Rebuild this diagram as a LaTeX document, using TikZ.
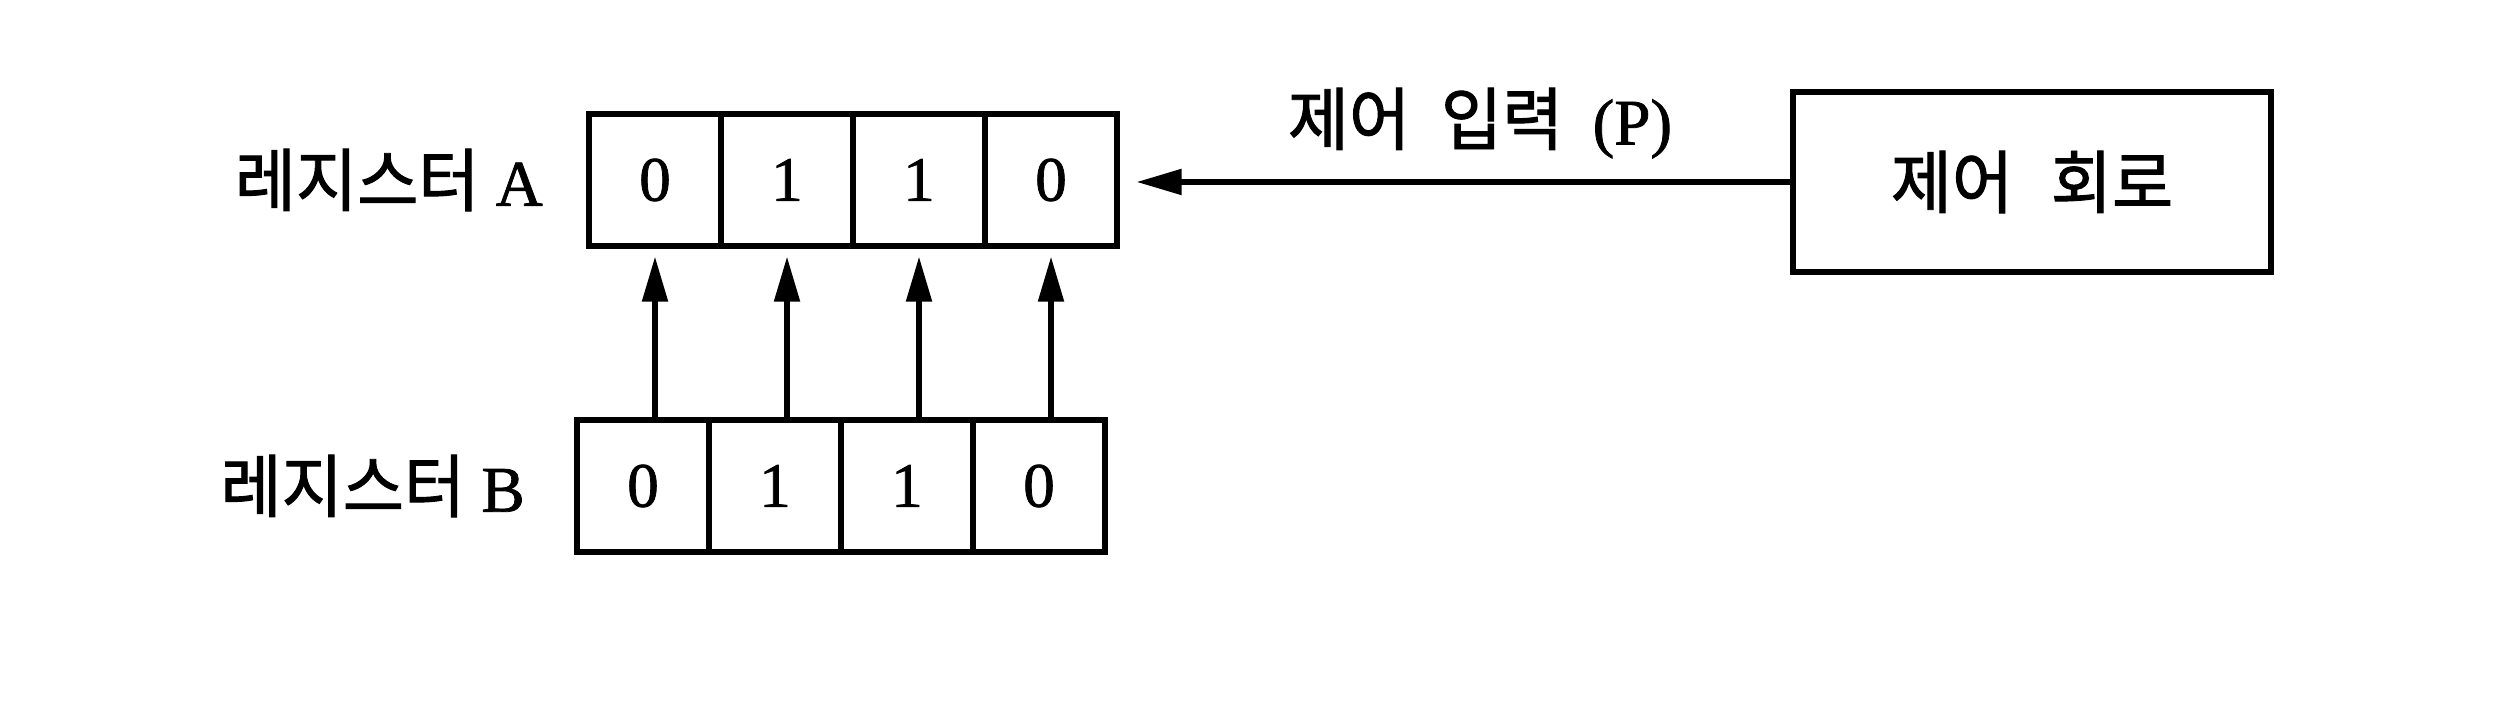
\documentclass[tikz,border=0pt]{standalone}
\usepackage{fontspec}
\setmainfont{Liberation Serif}[FakeBold=1.2]
\newfontfamily\kr{Noto Sans CJK KR}[FakeBold=1.4,FakeStretch=0.97]
\usetikzlibrary{positioning,arrows.meta}

\begin{document}
\begin{tikzpicture}[->,>={Triangle[length=4.5mm,width=2.5mm]},line width=1.5pt,node distance=1.32cm,
	bit node/.style={rectangle,draw,minimum width=1.32cm,minimum height=1.32cm,inner sep=0pt,font=\fontsize{18}{20}\selectfont},
	reg label/.style={inner sep=0pt,font=\fontsize{18.5}{20}\selectfont},
	ctrl node/.style={rectangle,draw,minimum width=4.78cm,minimum height=1.80cm,font=\fontsize{19.5}{22}\selectfont\kr}]
			
			\useasboundingbox (0,0) rectangle (24.94,7.17);
			
			\node[bit node] (a1) at (6.55,5.37) {0};
			\node[bit node] (a2) [right of = a1] {1};
			\node[bit node] (a3) [right of = a2] {1};
			\node[bit node] (a4) [right of = a3] {0};
			
			\node[bit node] (b1) at (6.43,2.31) {0};
			\node[bit node] (b2) [right of = b1] {1};
			\node[bit node] (b3) [right of = b2] {1};
			\node[bit node] (b4) [right of = b3] {0};
			
			\node[reg label] (la) [left=0.41cm of a1] {{\fontsize{19.5}{22}\selectfont\kr 레지스터}\hspace{0.25em}A};
			\node[reg label] (lb) [left=0.47cm of b1] {{\fontsize{19.5}{22}\selectfont\kr 레지스터}\hspace{0.25em}B};
			
			\node[ctrl node] (ctrl) at (20.32,5.35) {제어\hspace{0.55em}회로};
			
			\draw[shorten >=0.08cm] (a1.south |- b1.north) -- (a1.south);
			\draw[shorten >=0.08cm] (a2.south |- b2.north) -- (a2.south);
			\draw[shorten >=0.08cm] (a3.south |- b3.north) -- (a3.south);
			\draw[shorten >=0.08cm] (a4.south |- b4.north) -- (a4.south);
			
			\draw[shorten >=0.17cm] (ctrl.west) -- node[midway,above=2.1mm,xshift=2.5mm,inner sep=0pt,font=\fontsize{18.5}{20}\selectfont] {{\fontsize{19.5}{22}\selectfont\kr 제어\hspace{0.45em}입력}\hspace{0.45em}(P)} (ctrl.west -| a4.east);
			\end{tikzpicture}
\end{document}
